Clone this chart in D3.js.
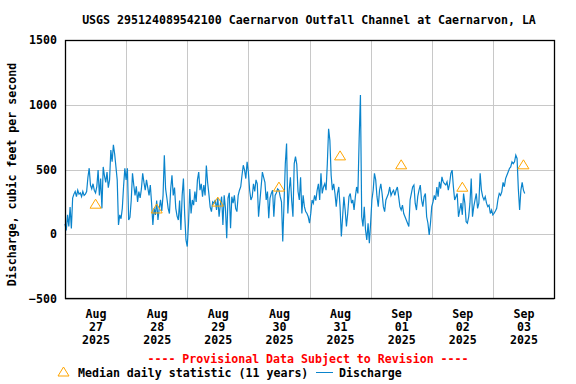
<!DOCTYPE html>
<html>
<head>
<meta charset="utf-8">
<script src="https://cdn.jsdelivr.net/npm/d3@7"></script>
<style>
  body { margin: 0; background: #fff; }
  text { font-family: "DejaVu Sans Mono", monospace; font-weight: bold; font-size: 11.6px; }
</style>
</head>
<body>
<div id="chart"></div>
<script>
// discharge, cfs, one value every 30 minutes starting at 00:00 each day
const aug27 = [80, 30, 150, 60, 210, 45, 280, 310, 330, 290, 340, 310, 320, 290, 330, 300, 310, 330,
  440, 510, 380, 350, 390, 340, 320, 370, 495, 300, 430, 200, 520, 450, 400, 480, 360, 420,
  650, 560, 690, 620, 520, 420, 72, 150, 120, 200, 370, 510];
const aug28 = [420, 510, 110, 130, 260, 470, 380, 300, 370, 250, 330, 280,
  350, 470, 400, 340, 420, 360, 300, 380, 240, 72, 200, 150,
  260, 110, 200, 265, 180, 300, 610, 350, 280, 200, 160, 350,
  456, 300, 360, 200, 140, 110, 260, 33, 300, 430, 150, -44];
const aug29 = [-95, 85, 350, 160, 265, 225, 330, 250, 420, 480, 340, 390,
  290, 380, 300, 530, 400, 310, 210, 175, 250, 240, 265, 187,
  280, 135, 230, 290, 72, 300, 200, -31, 280, 320, 46, 290,
  240, 300, 200, 175, 300, 340, 367, 456, 533, 495, 430, 560];
const aug30 = [480, 340, 265, 290, 390, 330, 420, 390, 135, 250, 365, 480,
  440, 400, 265, 330, 123, 280, 315, 340, 135, 300, 320, 350,
  340, 290, 250, -56, 240, 545, 700, 160, 340, 440, 260, 135,
  545, 600, 540, 330, 265, 440, 160, 300, 213, 175, 160, 135];
const aug31 = [85, 161, 265, 240, 300, 260, 340, 390, 265, 470, 315, 365,
  390, 340, 545, 815, 725, 456, 340, 390, 315, 213, 315, 365,
  213, -18, 135, 290, 187, 60, 160, 290, 315, 240, 265, 187,
  290, 365, 315, 740, 1075, 135, 60, 213, 33, -44, 85, -70];
const sep01 = [85, 265, 340, 470, 420, 290, 213, 340, 390, 315, 213, 175,
  265, 290, 315, 365, 300, 325, 340, 300, 340, 365, 290, 213,
  187, 225, 160, 135, 110, 85, 60, 265, 315, 365, 380, 240,
  187, 290, 340, 380, 265, 213, 290, 315, 135, 85, -5, 85];
const sep02 = [213, 250, 300, 265, 365, 290, 405, 353, 443, 405, 390, 380,
  405, 340, 390, 470, 495, 365, 265, 290, 315, 135, 187, 240,
  150, 315, 240, 97, 85, 135, 240, 430, 135, 213, 265, 315,
  200, 240, 470, 340, 290, 265, 290, 240, 213, 225, 160, 187];
const sep03 = [149, 162, 180, 200, 270, 315, 300, 328, 400, 367, 430, 456,
  480, 508, 520, 559, 545, 559, 610, 585, 350, 187, 341, 400, 341, 315];

// median daily statistic (11 years), plotted at noon
const medianDays = ["2025-08-27", "2025-08-28", "2025-08-29", "2025-08-30",
  "2025-08-31", "2025-09-01", "2025-09-02", "2025-09-03"];
const medianValues = [236, 199, 252, 368, 609, 540, 367, 540];

const yTicks = [-500, 0, 500, 1000, 1500];

const title = "USGS 295124089542100 Caernarvon Outfall Channel at Caernarvon, LA";
const yTitle = "Discharge, cubic feet per second";
const provisional = "---- Provisional Data Subject to Revision ----";

const parse = d3.timeParse("%Y-%m-%dT%H:%M");
const start = parse("2025-08-27T00:00");
const end = parse("2025-09-04T00:00");

const values = [].concat(aug27, aug28, aug29, aug30, aug31, sep01, sep02, sep03);
const series = values.map((v, i) => ({ t: d3.timeMinute.offset(start, i * 30), v: v }));
const medians = medianDays.map((d, i) => ({ t: parse(d + "T12:00"), v: medianValues[i] }));

const margin = { top: 40, right: 22, bottom: 85, left: 65 };
const width = 576 - margin.left - margin.right;
const height = 384 - margin.top - margin.bottom;

const svg = d3.select("#chart")
  .append("svg")
  .attr("width", 576)
  .attr("height", 384);

const g = svg.append("g")
  .attr("transform", `translate(${margin.left},${margin.top})`);

const x = d3.scaleTime()
  .domain([start, end])
  .range([0, width]);

const y = d3.scaleLinear()
  .domain([-500, 1500])
  .range([height, 0]);

// grid
g.selectAll(".vgrid")
  .data(d3.timeDay.range(d3.timeDay.offset(start, 1), end))
  .join("line")
  .attr("x1", d => Math.round(x(d)) + 0.5)
  .attr("x2", d => Math.round(x(d)) + 0.5)
  .attr("y1", 0)
  .attr("y2", height)
  .attr("stroke", "#c8c8c8");

g.selectAll(".hgrid")
  .data(yTicks)
  .join("line")
  .attr("x1", 0)
  .attr("x2", width)
  .attr("y1", d => Math.round(y(d)) + 0.5)
  .attr("y2", d => Math.round(y(d)) + 0.5)
  .attr("stroke", "#c8c8c8");

// discharge line
g.append("path")
  .datum(series)
  .attr("fill", "none")
  .attr("stroke", "#0a84cc")
  .attr("stroke-width", 1.2)
  .attr("d", d3.line().x(d => x(d.t)).y(d => y(d.v)));

// median triangles
g.selectAll(".median")
  .data(medians)
  .join("path")
  .attr("fill", "none")
  .attr("stroke", "#ffa500")
  .attr("stroke-width", 1)
  .attr("d", d => {
    const cx = x(d.t), cy = y(d.v);
    return `M${cx},${cy - 4.5}L${cx + 5.5},${cy + 4.5}L${cx - 5.5},${cy + 4.5}Z`;
  });

// frame
g.append("rect")
  .attr("x", 0.5)
  .attr("y", 0.5)
  .attr("width", width)
  .attr("height", height - 1)
  .attr("fill", "none")
  .attr("stroke", "#000")
  .attr("stroke-width", 1.3);

// y axis
const yAxis = g.append("g")
  .call(d3.axisLeft(y).tickValues(yTicks).tickSize(0).tickPadding(8).tickFormat(d3.format("d")));
yAxis.select(".domain").remove();
yAxis.selectAll("text")
  .attr("fill", "#000")
  .style("font-size", "11.6px")
  .style("font-family", "DejaVu Sans Mono")
  .style("font-weight", "bold");

// x axis: three line labels at noon
const fmtMon = d3.timeFormat("%b"), fmtDay = d3.timeFormat("%d"), fmtYear = d3.timeFormat("%Y");
const xAxis = g.append("g")
  .attr("transform", `translate(0,${height})`)
  .call(d3.axisBottom(x).tickValues(medians.map(d => d.t)).tickSize(0).tickFormat(""));
xAxis.select(".domain").remove();
xAxis.selectAll(".tick text")
  .attr("y", 19)
  .attr("dy", null)
  .attr("fill", "#000")
  .style("font-size", "11.6px")
  .style("font-family", "DejaVu Sans Mono")
  .style("font-weight", "bold")
  .each(function (d) {
    const t = d3.select(this);
    [fmtMon(d), fmtDay(d), fmtYear(d)].forEach((s, i) => {
      t.append("tspan").attr("x", 0).attr("dy", i === 0 ? 0 : 13.2).text(s);
    });
  });

// titles
svg.append("text")
  .attr("x", 309)
  .attr("y", 24)
  .attr("text-anchor", "middle")
  .text(title);

svg.append("text")
  .attr("transform", "translate(15.5,174.5) rotate(-90)")
  .attr("text-anchor", "middle")
  .text(yTitle);

svg.append("text")
  .attr("x", 308)
  .attr("y", 363)
  .attr("text-anchor", "middle")
  .attr("fill", "#ff0000")
  .text(provisional);

// legend
const leg = svg.append("g");
leg.append("path")
  .attr("fill", "none")
  .attr("stroke", "#ffa500")
  .attr("d", "M63.5,367L69,376L58,376Z");
leg.append("text").attr("x", 78).attr("y", 377).text("Median daily statistic (11 years)");
leg.append("line")
  .attr("x1", 316).attr("x2", 333)
  .attr("y1", 372.5).attr("y2", 372.5)
  .attr("stroke", "#0a84cc");
leg.append("text").attr("x", 339).attr("y", 377).text("Discharge");
</script>
</body>
</html>
